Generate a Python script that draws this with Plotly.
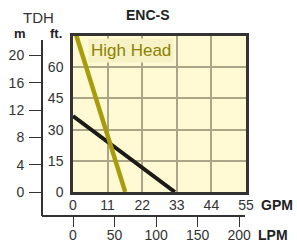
import plotly.graph_objects as go

W, H = 297, 242

# Data (GPM vs TDH ft)
high_head_gpm = [1.0, 16.6]
high_head_ft = [75.5, 0.0]
std_gpm = [0.0, 32.4]
std_ft = [36.5, 0.0]

gpm_ticks = [0, 11, 22, 33, 44, 55]
ft_ticks = [0, 15, 30, 45, 60]
m_ticks = [0, 4, 8, 12, 16, 20]
lpm_ticks = [0, 50, 100, 150, 200]

# pixel layout
PL, PR, PT, PB = 73, 246, 36, 192
AX_L = 42      # m axis x
AX_B = 216     # LPM axis y
AX_TOP = 40
AX_R = 245

def fx(px):
    return px / W

def fy(py):
    return 1 - py / H

GPM_MAX = 55.0
FT_MAX = 75.0
px_per_gpm = (PR - PL) / GPM_MAX
px_per_ft = (PB - PT) / FT_MAX
px_per_m = px_per_ft * 3.281
px_per_lpm = px_per_gpm / 3.785

FONT = "Liberation Sans, Arial, sans-serif"
DARK = "#333333"

fig = go.Figure()

fig.add_trace(go.Scatter(x=std_gpm, y=std_ft, mode="lines",
                         line=dict(color="#1c1a17", width=4), showlegend=False,
                         hoverinfo="skip"))
fig.add_trace(go.Scatter(x=high_head_gpm, y=high_head_ft, mode="lines",
                         line=dict(color="#A89B0C", width=4.5), showlegend=False,
                         hoverinfo="skip"))
# empty trace to register the secondary (m / LPM) axes
fig.add_trace(go.Scatter(x=[], y=[], xaxis="x2", yaxis="y2", showlegend=False))

m_lo = -(AX_B - PB) / px_per_m
m_hi = (PB - AX_TOP) / px_per_m
lpm_lo = -(PL - AX_L) / px_per_lpm
lpm_hi = (AX_R - PL) / px_per_lpm

fig.update_layout(
    width=W, height=H,
    margin=dict(l=0, r=0, t=0, b=0, autoexpand=False),
    paper_bgcolor="white",
    plot_bgcolor="rgba(0,0,0,0)",
    font=dict(family=FONT, size=14, color=DARK),
    xaxis=dict(domain=[fx(PL), fx(PR)], range=[0, GPM_MAX], tickvals=gpm_ticks,
               showgrid=True, gridcolor="#ABA687", gridwidth=1.5, zeroline=False,
               showline=True, mirror=True, linecolor=DARK, linewidth=2.5,
               ticks="", ticklabelstandoff=-2, anchor="y", fixedrange=True,
               automargin=False),
    yaxis=dict(domain=[fy(PB), fy(PT)], range=[0, FT_MAX], tickvals=ft_ticks,
               showgrid=True, gridcolor="#ABA687", gridwidth=1.5, zeroline=False,
               showline=True, mirror=True, linecolor=DARK, linewidth=2.5,
               ticks="", ticklabelstandoff=4, anchor="x", fixedrange=True,
               automargin=False),
    yaxis2=dict(domain=[fy(AX_B), fy(AX_TOP)], range=[m_lo, m_hi], tickvals=m_ticks,
                anchor="free", position=fx(AX_L), side="left",
                showgrid=False, zeroline=False, showline=True, linecolor=DARK,
                linewidth=2, ticks="outside", ticklen=12, tickwidth=1.2,
                tickcolor=DARK, ticklabelstandoff=2, fixedrange=True,
                automargin=False),
    xaxis2=dict(domain=[fx(AX_L), fx(AX_R)], range=[lpm_lo, lpm_hi], tickvals=lpm_ticks,
                anchor="free", position=fy(AX_B), side="bottom",
                showgrid=False, zeroline=False, showline=True, linecolor=DARK,
                linewidth=2, ticks="outside", ticklen=10, tickwidth=1.2,
                tickcolor=DARK, ticklabelstandoff=-4, fixedrange=True,
                automargin=False),
    shapes=[dict(type="rect", xref="x domain", yref="y domain", x0=0, x1=1, y0=0, y1=1,
                 fillcolor="#FFFAD3", line=dict(width=0), layer="below")],
)

def ann(text, px, py, size=14, bold=False, color=DARK, xanchor="center", **kw):
    fig.add_annotation(text=f"<b>{text}</b>" if bold else text,
                       x=fx(px), y=fy(py), xref="paper", yref="paper",
                       showarrow=False, xanchor=xanchor, yanchor="middle",
                       font=dict(family=FONT, size=size, color=color), **kw)

ann("ENC-S", 148, 15, size=14, bold=True, color="#222222")
ann("TDH", 38, 18, size=15)
ann("m", 20, 34, size=13, bold=True, color="#222222")
ann("ft.", 56, 34, size=13, bold=True, color="#222222")
ann("GPM", 259, 205, size=14, bold=True, color="#222222", xanchor="left")
ann("LPM", 256, 235, size=14, bold=True, color="#222222", xanchor="left")
ann("High Head", 88, 51, size=17, color="#8C8100", xanchor="left",
    bgcolor="#F7F1C6", borderpad=2)

fig.write_html("out.html", config={"displayModeBar": False},
               post_script="document.body.style.margin='0';document.body.style.overflow='hidden';")
